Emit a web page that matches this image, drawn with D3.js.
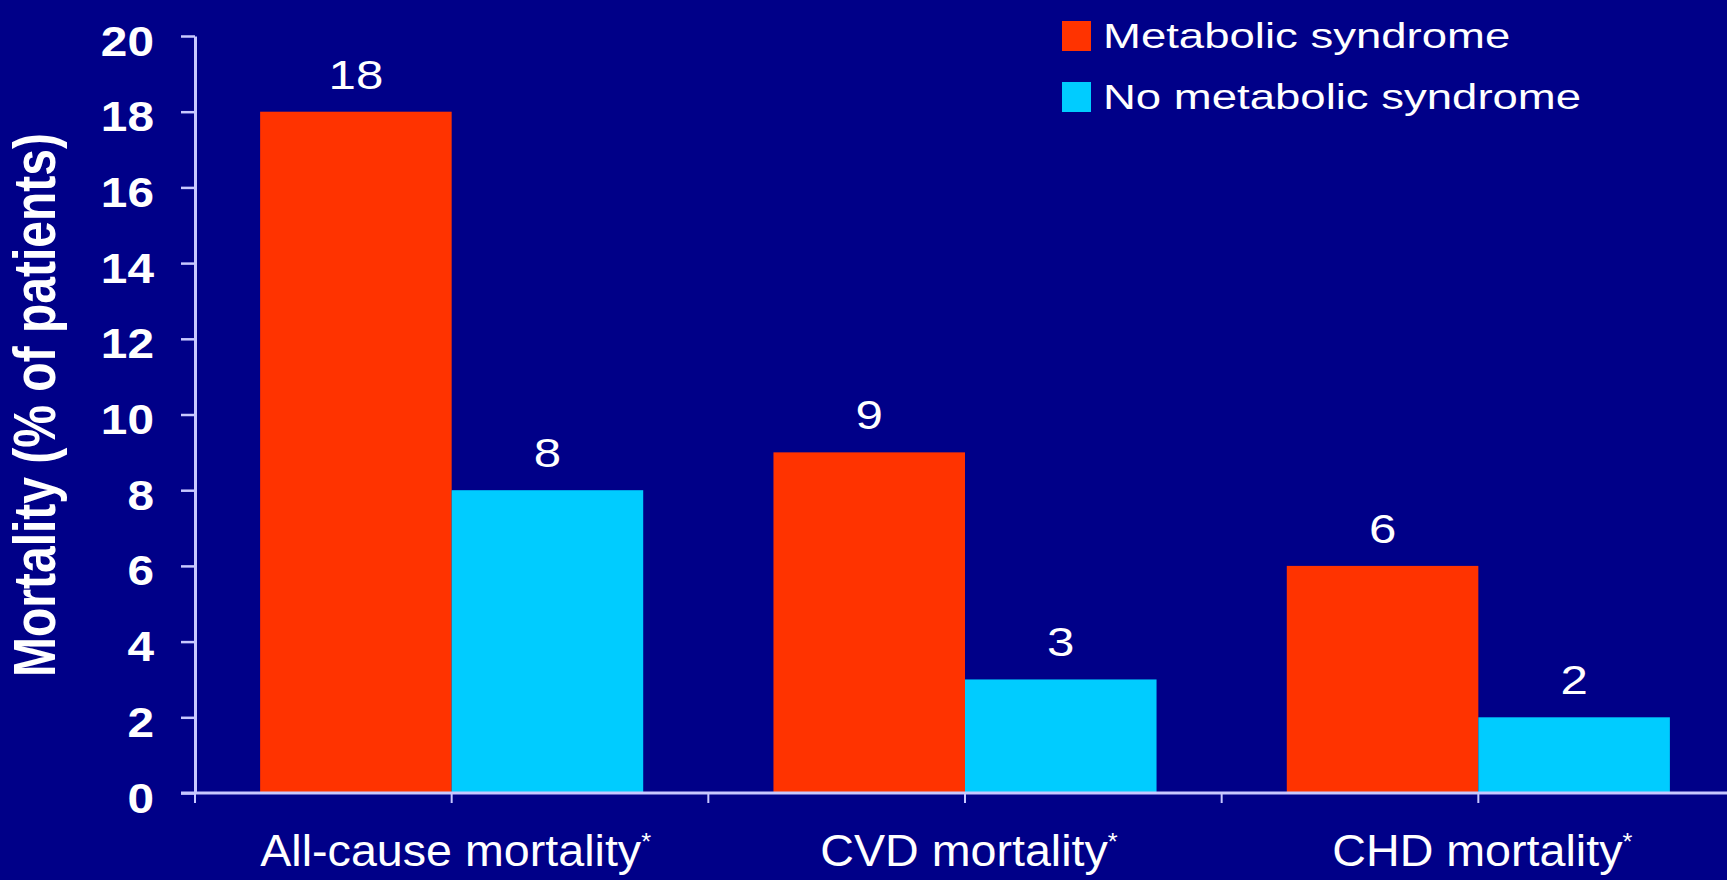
<!doctype html>
<html>
<head>
<meta charset="utf-8">
<title>Mortality by metabolic syndrome</title>
<style>
  body { margin: 0; background: #000088; }
  svg { display: block; }
  text { font-family: "Liberation Sans", Arial, sans-serif; fill: #fff; }
</style>
<script src="https://cdn.jsdelivr.net/npm/d3@7"></script>
</head>
<body>
<svg width="1727" height="880"></svg>
<script>
var categories = ["All-cause mortality", "CVD mortality", "CHD mortality"];
var series = ["Metabolic syndrome", "No metabolic syndrome"];
var metabolic = [18, 9, 6];
var noMetabolic = [8, 3, 2];
var yTicks = [0, 2, 4, 6, 8, 10, 12, 14, 16, 18, 20];
var colors = ["#ff3300", "#00ccff"];
var axisColor = "#c8c8ff";

var svg = d3.select("svg"),
    width = +svg.attr("width"),
    height = +svg.attr("height");

var rows = categories.map(function(c, i) {
    return { cat: c, values: [metabolic[i], noMetabolic[i]] };
});

var y = d3.scaleLinear().domain([0, 20]).range([793, 36]);
var x0 = d3.scaleBand().domain(categories).range([195, 1735]);
var x1 = d3.scaleBand().domain(series).range([0, x0.bandwidth()])
    .paddingInner(0).paddingOuter(0.34);

// text in the picture is stretched sideways, so scale each label in x
function place(sel, x, yy, sx) {
    sel.attr("transform", "translate(" + x + "," + yy + ") scale(" + sx + ",1)");
}

// bars
var groups = svg.append("g").selectAll("g")
    .data(rows)
    .enter().append("g")
    .attr("transform", function(d) { return "translate(" + x0(d.cat) + ",0)"; });

groups.selectAll("rect")
    .data(function(d) { return d.values.map(function(v, i) { return { s: series[i], v: v, i: i }; }); })
    .enter().append("rect")
    .attr("x", function(d) { return x1(d.s); })
    .attr("y", function(d) { return y(d.v); })
    .attr("width", x1.bandwidth())
    .attr("height", function(d) { return y(0) - y(d.v); })
    .attr("fill", function(d) { return colors[d.i]; });

groups.selectAll("text.val")
    .data(function(d) { return d.values.map(function(v, i) { return { s: series[i], v: v }; }); })
    .enter().append("text")
    .attr("class", "val")
    .attr("text-anchor", "middle")
    .attr("font-size", 41)
    .each(function(d) { place(d3.select(this), x1(d.s) + x1.bandwidth() / 2, y(d.v) - 23, 1.2); })
    .text(function(d) { return d.v; });

// y axis
var yAxis = svg.append("g")
    .attr("transform", "translate(195,0)")
    .call(d3.axisLeft(y).tickValues(yTicks).tickSize(14).tickSizeOuter(0).tickPadding(23));

yAxis.select(".domain").attr("stroke", axisColor).attr("stroke-width", 3);
yAxis.selectAll(".tick line").attr("stroke", axisColor).attr("stroke-width", 2.5);
yAxis.selectAll(".tick text")
    .attr("fill", "#fff")
    .attr("font-family", "'Liberation Sans', Arial, sans-serif")
    .attr("font-weight", "bold")
    .attr("font-size", 43)
    .attr("dy", 19)
    .attr("transform", "scale(1.11,1)");

// x axis
var xTicks = [];
categories.forEach(function(c) {
    xTicks.push(x0(c));
    xTicks.push(x0(c) + x0.bandwidth() / 2);
});

svg.append("line")
    .attr("x1", 181).attr("x2", width)
    .attr("y1", y(0)).attr("y2", y(0))
    .attr("stroke", axisColor).attr("stroke-width", 3);

svg.append("g").selectAll("line")
    .data(xTicks)
    .enter().append("line")
    .attr("x1", function(d) { return d; })
    .attr("x2", function(d) { return d; })
    .attr("y1", y(0))
    .attr("y2", y(0) + 10)
    .attr("stroke", axisColor)
    .attr("stroke-width", 2);

var xl = svg.append("g").selectAll("text")
    .data(categories)
    .enter().append("text")
    .attr("text-anchor", "middle")
    .attr("font-size", 44)
    .each(function(d) { place(d3.select(this), x0(d) + x0.bandwidth() / 2 + 4, 866, 1.06); });
xl.append("tspan").text(function(d) { return d; });
xl.append("tspan").attr("font-size", 24).attr("dy", -16).text("*");

// y title
svg.append("text")
    .attr("text-anchor", "middle")
    .attr("font-weight", "bold")
    .attr("font-size", 48)
    .attr("transform", "translate(55,405) scale(1.22,1) rotate(-90)")
    .text("Mortality (% of patients)");

// legend
var legend = svg.append("g")
    .attr("transform", "translate(1062,21)")
    .selectAll("g")
    .data(series)
    .enter().append("g")
    .attr("transform", function(d, i) { return "translate(0," + i * 61 + ")"; });

legend.append("rect")
    .attr("width", 29)
    .attr("height", 30)
    .attr("fill", function(d, i) { return colors[i]; });

legend.append("text")
    .attr("font-size", 34.5)
    .each(function() { place(d3.select(this), 41, 27, 1.32); })
    .text(function(d) { return d; });
</script>
</body>
</html>
